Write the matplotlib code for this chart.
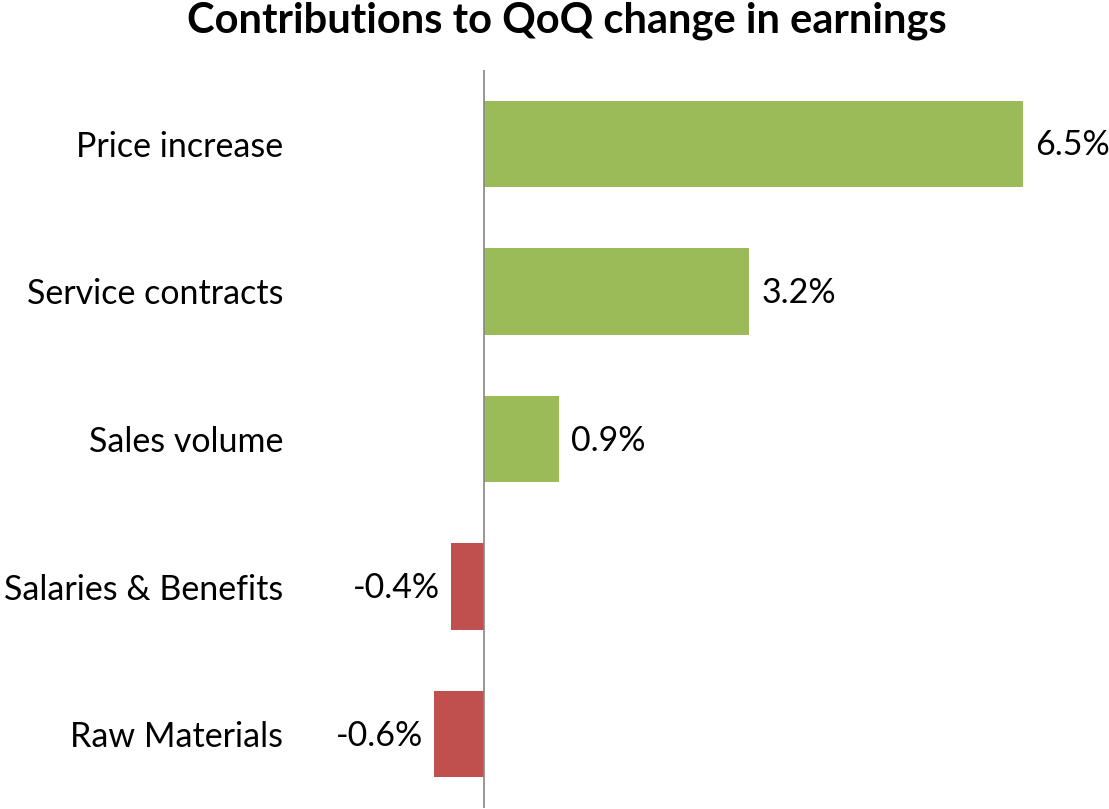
import matplotlib
matplotlib.use("Agg")
import matplotlib.pyplot as plt

categories = ["Price increase", "Service contracts", "Sales volume", "Salaries & Benefits", "Raw Materials"]
values = [6.5, 3.2, 0.9, -0.4, -0.6]
labels = ["6.5%", "3.2%", "0.9%", "-0.4%", "-0.6%"]
title = "Contributions to QoQ change in earnings"

GREEN = "#9BBB59"
RED = "#C0504D"

plt.rcParams['font.family'] = ['Lato', 'DejaVu Sans']

W, H = 1109, 809
fig = plt.figure(figsize=(W / 100, H / 100), dpi=100)
ax_left, ax_right = 290, 1109
ax_top, ax_bottom = 70, 808
ax = fig.add_axes([ax_left / W, 1 - ax_bottom / H, (ax_right - ax_left) / W, (ax_bottom - ax_top) / H])

scale = 539 / 6.5
ax.set_xlim(-(484 - ax_left) / scale, (ax_right - 484) / scale)
ypos = list(range(len(categories)))
ax.set_ylim(len(categories) - 0.5, -0.5)

colors = [GREEN if v >= 0 else RED for v in values]
ax.barh(ypos, values, height=0.585, color=colors, zorder=2)
ax.axvline(0, color="#868686", lw=1.2, zorder=3)

FS = 24.5
for y, v, t in zip(ypos, values, labels):
    if v >= 0:
        ax.annotate(t, (v, y), xytext=(9, 1), textcoords="offset points", ha="left", va="center_baseline", fontsize=FS)
    else:
        ax.annotate(t, (v, y), xytext=(-8, 1), textcoords="offset points", ha="right", va="center_baseline", fontsize=FS)

ax.set_yticks(ypos)
ax.set_yticklabels(categories, fontsize=FS)
ax.tick_params(axis="y", length=0, pad=5)
ax.set_xticks([])
for s in ax.spines.values():
    s.set_visible(False)

fig.text(567 / W, 1 - 32 / H, title, ha="center", va="baseline", fontsize=30, fontweight="bold")

fig.savefig("out.png", dpi=100)
